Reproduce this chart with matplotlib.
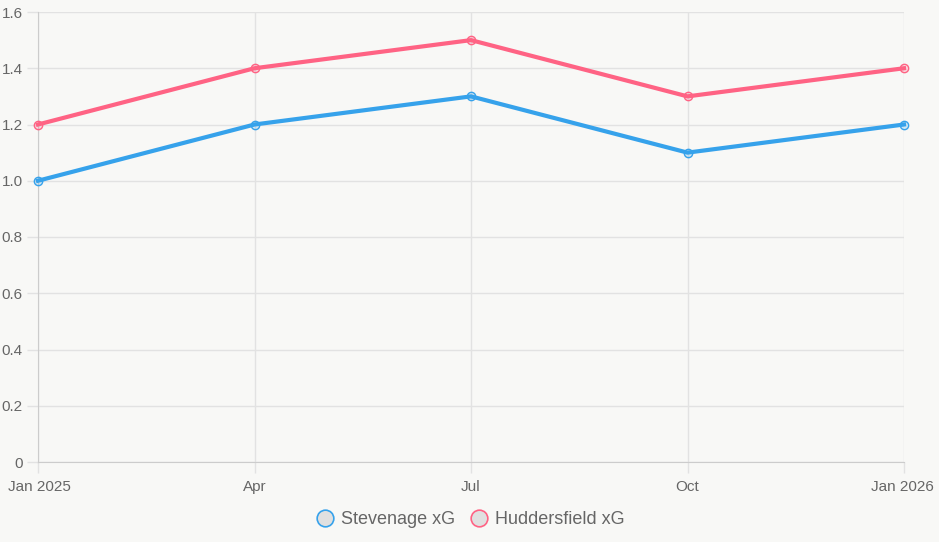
import matplotlib.pyplot as plt
from matplotlib.lines import Line2D
from matplotlib.transforms import ScaledTranslation

plt.rcParams['font.family'] = ['Liberation Sans', 'DejaVu Sans']

labels = ['Jan 2025', 'Apr', 'Jul', 'Oct', 'Jan 2026']
stevenage = [1.0, 1.2, 1.3, 1.1, 1.2]
huddersfield = [1.2, 1.4, 1.5, 1.3, 1.4]
yticks = [0, 0.2, 0.4, 0.6, 0.8, 1.0, 1.2, 1.4, 1.6]
ytick_labels = ['0', '0.2', '0.4', '0.6', '0.8', '1.0', '1.2', '1.4', '1.6']

blue = '#36a2eb'
pink = '#ff6384'
bg = '#f8f8f6'
grid = '#e2e2e2'
txt = '#666666'

fig = plt.figure(figsize=(9.39, 5.42), dpi=100, facecolor=bg)
ax = fig.add_axes([38/939, 80/542, 866/939, 450/542])
ax.set_facecolor(bg)

x = list(range(len(labels)))
ax.plot(x, stevenage, color=blue, linewidth=3, marker='o', markersize=6,
        markerfacecolor=(0.21, 0.64, 0.92, 0.2), markeredgecolor=blue, markeredgewidth=1,
        zorder=3, clip_on=False)
ax.plot(x, huddersfield, color=pink, linewidth=3, marker='o', markersize=6,
        markerfacecolor=(1.0, 0.39, 0.52, 0.2), markeredgecolor=pink, markeredgewidth=1,
        zorder=3, clip_on=False)

ax.set_xlim(0, 4)
ax.set_ylim(0, 1.6)
ax.set_xticks(x)
ax.set_xticklabels(labels)
ax.set_yticks(yticks)
ax.set_yticklabels(ytick_labels)
ax.grid(True, color=grid, linewidth=1)
ax.set_axisbelow(True)
for s in ax.spines.values():
    s.set_visible(False)
ax.spines['left'].set_visible(True)
ax.spines['bottom'].set_visible(True)
ax.spines['left'].set_color('#cccccc')
ax.spines['bottom'].set_color('#cccccc')
ax.tick_params(axis='both', colors=grid, labelcolor=txt, labelsize=11, length=8, width=1)
ax.tick_params(axis='y', pad=3)
ax.tick_params(axis='x', pad=5)
xl = ax.get_xticklabels()
xl[0].set_ha('left')
xl[-1].set_ha('right')
xl[0].set_transform(xl[0].get_transform() + ScaledTranslation(-0.3, 0, fig.dpi_scale_trans))
xl[-1].set_transform(xl[-1].get_transform() + ScaledTranslation(0.3, 0, fig.dpi_scale_trans))

handles = [Line2D([], [], linestyle='none', marker='o', markersize=12, markerfacecolor='#e0e0e0',
                  markeredgecolor=blue, markeredgewidth=1.2),
           Line2D([], [], linestyle='none', marker='o', markersize=12, markerfacecolor='#e0e0e0',
                  markeredgecolor=pink, markeredgewidth=1.2)]
leg = fig.legend(handles, ['Stevenage xG', 'Huddersfield xG'], loc='center', bbox_to_anchor=(0.5, 22/542),
                 ncol=2, frameon=False, fontsize=13, labelcolor=txt, handletextpad=0.3, columnspacing=0.7,
                 handlelength=1.2)

fig.savefig('out.png', dpi=100, facecolor=bg)
